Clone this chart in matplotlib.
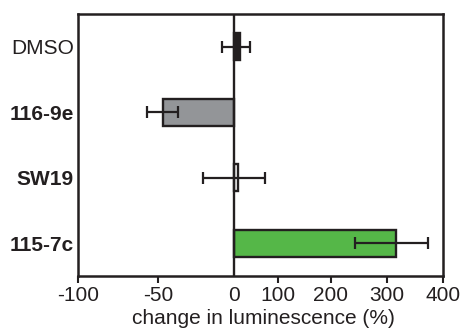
import numpy as np
import matplotlib
matplotlib.use("Agg")
import matplotlib.pyplot as plt

categories = ["DMSO", "116-9e", "SW19", "115-7c"]
values = [13.6, -46.7, 8.4, 315]
err_low = [-8.1, -56.9, -20.6, 243]
err_high = [36, -36.8, 70, 374]
bar_colors = ["#231f20", "#939598", "#ffffff", "#55b748"]
label_bold = [False, True, True, True]
tick_values = [-100, -50, 0, 100, 200, 300, 400]
tick_labels = ["-100", "-50", "0", "100", "200", "300", "400"]
# piecewise scale: relative positions of tick values along the axis
tick_frac = [0.0, 0.219, 0.427, 0.548, 0.693, 0.847, 1.0]

plt.rcParams["font.family"] = ["Liberation Sans", "DejaVu Sans"]
edge = "#231f20"
fs = 15

fig = plt.figure(figsize=(4.61, 3.28), dpi=100)
ax = fig.add_axes([78 / 461, 1 - 276 / 328, (443 - 78) / 461, (276 - 14) / 328])

def fwd(x):
    return np.interp(x, tick_values, tick_frac)

def inv(y):
    return np.interp(y, tick_frac, tick_values)

ax.set_xscale("function", functions=(fwd, inv))

y = np.arange(len(categories))
ax.barh(y, values, height=0.41, left=0, color=bar_colors, edgecolor=edge,
        linewidth=1.7, zorder=2)
vals = np.array(values)
xerr = np.vstack([vals - np.array(err_low), np.array(err_high) - vals])
ax.errorbar(values, y, xerr=xerr, fmt="none", ecolor=edge, elinewidth=1.6,
            capsize=4.5, capthick=1.6, zorder=3)
ax.axvline(0, color=edge, linewidth=1.7, zorder=4)

ax.set_xlim(-100, 400)
ax.set_ylim(3.5, -0.5)
ax.set_xticks(tick_values)
ax.set_xticklabels(tick_labels, fontsize=fs, color="#231f20")
ax.xaxis.set_minor_locator(matplotlib.ticker.NullLocator())
ax.tick_params(axis="x", direction="out", length=5, width=1.5, color=edge, pad=2)
ax.get_xaxis().get_major_ticks()[2].tick1line.set_visible(False)
ax.set_yticks(y)
ax.set_yticklabels(categories, fontsize=fs, color="#231f20")
for lbl, b in zip(ax.get_yticklabels(), label_bold):
    lbl.set_fontweight("bold" if b else "normal")
ax.tick_params(axis="y", length=0, pad=3)
for s in ax.spines.values():
    s.set_linewidth(1.8)
    s.set_color(edge)

fig.text(263 / 461, 4 / 328, "change in luminescence (%)", ha="center",
         va="baseline", fontsize=fs, color="#231f20")

fig.savefig("out.png", dpi=100)
